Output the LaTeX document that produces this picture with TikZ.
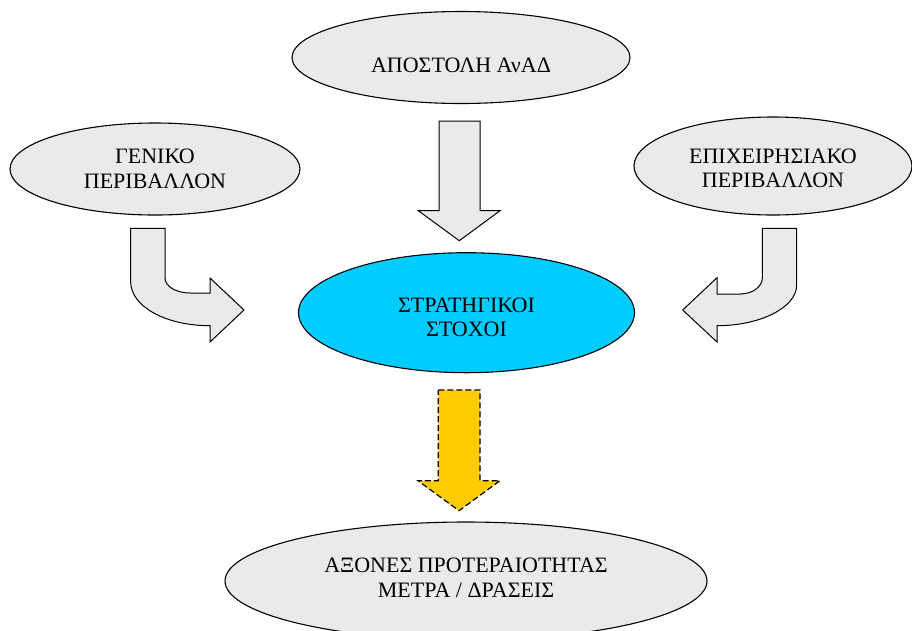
\documentclass[tikz,border=0pt]{standalone}
\usepackage{fontspec}
\setmainfont{Liberation Serif}
\usetikzlibrary{shapes.geometric}
\begin{document}
\begin{tikzpicture}[x=1pt,y=-1pt,
  every node/.style={font=\fontsize{22}{24.5}\selectfont},
  ell/.style={ellipse, draw=black, line width=1.1pt, inner sep=0pt},
  greyell/.style={ell, fill=boxgrey},
  lbl/.style={align=center, text=black},
  blockarrow/.style={draw=black, line width=1pt, fill=boxgrey, line join=miter},
  yellowarrow/.style={draw=black, line width=1.2pt, fill=arrowyellow, dash pattern=on 6pt off 3pt, line join=miter}
]
\definecolor{boxgrey}{HTML}{EAEAEA}
\definecolor{goalcyan}{HTML}{00CCFF}
\definecolor{arrowyellow}{HTML}{FFCC00}
\useasboundingbox (0,0) rectangle (912,630);
\fill[white] (0,0) rectangle (912,630);

% ellipses
\node[greyell, minimum width=338pt, minimum height=92pt,
  label={[lbl,name=missiontxt,yshift=-7.5pt]center:ΑΠΟΣΤΟΛΗ ΑνΑΔ}] (mission) at (461,57.5) {};
\node[greyell, minimum width=290pt, minimum height=92pt,
  label={[lbl,name=gentxt,yshift=0pt]center:ΓΕΝΙΚΟ\\ΠΕΡΙΒΑΛΛΟΝ}] (general) at (155,169) {};
\node[greyell, minimum width=278pt, minimum height=98pt,
  label={[lbl,name=bustxt,yshift=-2.5pt]center:ΕΠΙΧΕΙΡΗΣΙΑΚΟ\\ΠΕΡΙΒΑΛΛΟΝ}] (business) at (773,166) {};
\node[ell, fill=goalcyan, minimum width=336pt, minimum height=120pt,
  label={[lbl,name=goaltxt,yshift=-4.5pt]center:ΣΤΡΑΤΗΓΙΚΟΙ\\ΣΤΟΧΟΙ}] (goals) at (466.5,312.7) {};
\node[greyell, minimum width=482pt, minimum height=118pt,
  label={[lbl,name=axestxt,yshift=3pt]center:ΑΞΟΝΕΣ ΠΡΟΤΕΡΑΙΟΤΗΤΑΣ\\ΜΕΤΡΑ / ΔΡΑΣΕΙΣ}] (axes) at (466,581) {};

% straight grey arrow from mission to goals
\draw[blockarrow] (439,121) -- (480,121) -- (480,210.7) -- (500,210.7) -- (459.3,240.7)
  -- (418.3,210.7) -- (439,210.7) -- cycle;

% yellow dashed arrow from goals to axes
\draw[yellowarrow] (438.3,390) -- (480,390) -- (480,480.7) -- (500,480.7) -- (459,510.7)
  -- (418,480.7) -- (438.3,480.7) -- cycle;

% left bent arrow
\draw[blockarrow] (130.7,228.3) -- (165,228.3) -- (165,278)
  .. controls (165,286.3) and (176.2,293) .. (190,293)
  -- (210,293) -- (210,278) -- (244,310) -- (210,342) -- (210,325.7)
  .. controls (165,325.7) and (130.7,306) .. (130.7,282) -- cycle;

% right bent arrow
\draw[blockarrow] (796.7,228.3) -- (762.3,228.3) -- (762.3,278)
  .. controls (762.3,286.3) and (753,294) .. (740,294)
  -- (717,294) -- (717,277.7) -- (682.7,310) -- (717,342) -- (717,325.7)
  .. controls (760,325.7) and (796.7,307.6) .. (796.7,285) -- cycle;
\end{tikzpicture}
\end{document}
